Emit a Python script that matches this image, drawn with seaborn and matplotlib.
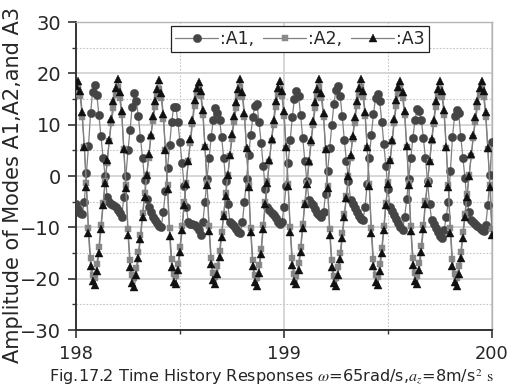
import numpy as np
import pandas as pd
import matplotlib
matplotlib.use("Agg")
import matplotlib.pyplot as plt
import seaborn as sns
from matplotlib.ticker import MultipleLocator

# sampling times (s)
t = np.round(198.0 + np.arange(201) * 0.01, 2)

A1 = [-5.4,
      -6.4, -7.2, -7.4, -5.0, 0.5, 5.8, 12.2, 16.4, 17.7, 15.8, 11.9, 7.7, 3.6, 0.0, -4.0, -5.0, -5.4, -5.7, -6.0,
      -6.6, -7.2, -8.0, -4.0, 0.0, 5.0, 9.0, 13.5, 16.1, 14.6, 11.6, 7.4, 3.5, -0.8, -4.5, -6.0, -7.0, -7.9, -8.6, -9.2,
      -9.8, -10.0, -7.0, -3.0, 1.5, 6.0, 10.5, 13.5, 13.4, 10.5, 6.6, 2.5, -2.0, -6.0, -9.0, -9.4, -9.4, -9.6, -10.0,
      -10.6, -11.4, -9.0, -5.0, -0.5, 3.5, 7.6, 11.0, 13.3, 12.3, 11.0, 7.6, 3.5, -1.0, -5.5, -9.0, -9.4, -9.8, -10.4, -11.0,
      -11.2, -9.0, -5.0, -0.5, 4.0, 8.0, 11.5, 13.6, 14.0, 10.5, 6.5, 2.0, -2.5, -6.0, -6.6, -7.2, -7.6, -8.2, -9.0,
      -9.4, -9.0, -6.0, -2.0, 2.5, 7.0, 11.5, 15.0, 16.6, 15.6, 11.8, 7.4, 3.0, -1.0, -4.6, -5.3, -5.7, -6.4, -7.2,
      -7.6, -8.0, -7.0, -3.5, 1.0, 5.5, 10.0, 14.0, 16.8, 17.6, 15.6, 11.6, 7.0, 3.0, -1.0, -4.7, -5.4, -6.2, -7.0, -7.8,
      -8.4, -8.6, -6.0, -1.5, 3.5, 8.0, 12.0, 15.2, 16.0, 14.6, 10.6, 6.2, 2.0, -2.5, -6.0, -6.8, -7.6, -8.4, -9.2,
      -10.0, -10.5, -8.0, -4.5, -0.5, 3.5, 7.5, 11.0, 13.0, 12.6, 11.0, 7.4, 3.5, -1.0, -5.5, -8.6, -9.4, -10.2, -11.0,
      -11.6, -12.0, -10.5, -8.0, -5.0, 1.0, 7.6, 11.6, 12.8, 12.2, 7.6, 3.5, -0.4, -5.0, -7.0, -8.6, -9.0, -9.4, -9.8, -10.2,
      -10.5, -10.8, -9.5, -5.7, 0.2, 6.7]

A2 = [16.0,
      17.2, 15.6, 11.4, 5.6, -1.4, -10.2, -16.0, -19.2, -19.8, -17.2, -13.8, -9.6, -5.2, -1.0, 2.6, 6.8, 10.4, 13.2, 15.8,
      17.4, 15.2, 11.8, 5.2, -1.8, -10.4, -16.4, -19.2, -19.8, -18.0, -14.8, -11.4, -7.2, -3.4, 0.2, 3.6, 7.6, 10.8, 13.4, 15.6,
      17.0, 15.2, 11.2, 5.0, -1.8, -10.2, -16.2, -19.0, -19.4, -17.2, -13.8, -9.8, -5.0, -1.4, 3.0, 6.4, 10.2, 13.6, 15.8,
      17.2, 15.6, 11.8, 5.6, -1.4, -9.8, -16.0, -18.8, -19.6, -17.6, -14.6, -11.0, -7.4, -3.4, 0.2, 3.8, 7.2, 10.6, 13.2, 15.6,
      17.4, 15.4, 11.4, 5.2, -1.8, -10.2, -16.4, -19.2, -19.8, -17.4, -14.2, -9.6, -5.0, -1.0, 2.8, 6.8, 10.0, 13.4, 16.0,
      17.0, 15.6, 11.6, 5.4, -1.6, -10.0, -16.0, -19.0, -19.4, -17.0, -13.8, -9.4, -5.2, -1.4, 2.6, 6.4, 10.0, 13.2, 15.6,
      17.4, 15.2, 11.4, 5.0, -2.0, -10.4, -16.4, -19.4, -19.8, -17.8, -15.0, -11.2, -7.4, -3.8, 0.0, 3.6, 7.2, 10.4, 13.6, 15.8,
      17.4, 15.4, 11.6, 5.4, -1.6, -10.2, -16.2, -19.2, -19.6, -17.2, -14.0, -9.8, -5.2, -1.2, 3.0, 6.6, 10.4, 13.6, 16.0,
      17.2, 15.2, 11.8, 5.6, -1.4, -9.8, -16.0, -18.8, -19.4, -17.0, -13.6, -9.6, -4.8, -1.0, 2.8, 6.8, 10.2, 13.4, 15.6,
      17.0, 15.4, 11.8, 5.4, -1.8, -10.2, -16.2, -19.0, -19.8, -17.6, -14.8, -11.0, -7.4, -3.6, 0.2, 3.8, 7.4, 10.6, 13.4, 15.8,
      17.2, 15.4, 11.4, 5.2, -1.8, -10.4]

A3 = [17.5,
      18.6, 16.6, 12.4, 5.6, -2.2, -11.2, -17.6, -20.4, -21.2, -18.6, -15.0, -10.4, -5.6, -1.4, 3.2, 7.0, 11.2, 14.6, 17.2,
      18.9, 16.4, 12.6, 5.2, -2.4, -11.4, -17.8, -20.8, -21.6, -19.2, -16.0, -12.2, -8.0, -4.0, 0.2, 4.2, 8.0, 11.6, 14.6, 17.0,
      18.7, 16.2, 12.0, 5.0, -2.6, -11.6, -17.8, -20.6, -21.0, -18.4, -14.8, -10.6, -5.6, -1.6, 3.0, 7.2, 11.0, 14.8, 17.2,
      18.4, 16.6, 12.8, 5.8, -1.8, -10.8, -17.2, -20.2, -21.0, -19.0, -15.8, -11.8, -7.8, -3.8, 0.2, 4.0, 8.2, 11.6, 14.4, 17.0,
      18.8, 16.4, 12.2, 5.4, -2.2, -11.0, -17.6, -20.6, -21.4, -18.8, -15.2, -10.4, -5.4, -1.4, 3.2, 7.2, 11.0, 14.6, 17.2,
      18.6, 16.6, 12.6, 5.6, -2.0, -11.0, -17.4, -20.4, -21.0, -18.4, -14.8, -10.2, -5.4, -1.6, 3.0, 7.0, 10.8, 14.4, 17.0,
      18.8, 16.2, 12.2, 5.2, -2.4, -11.4, -17.8, -20.8, -21.4, -19.2, -16.2, -12.0, -8.0, -4.2, 0.0, 4.0, 7.8, 11.4, 14.6, 17.2,
      18.9, 16.6, 12.4, 5.6, -2.0, -11.2, -17.6, -20.6, -21.2, -18.6, -15.0, -10.6, -5.6, -1.6, 3.2, 7.0, 11.2, 14.8, 17.4,
      18.6, 16.4, 12.6, 5.8, -1.8, -10.8, -17.4, -20.4, -21.0, -18.4, -14.8, -10.4, -5.4, -1.4, 3.0, 7.2, 11.0, 14.6, 17.0,
      18.5, 16.6, 12.8, 5.6, -2.2, -11.2, -17.6, -20.6, -21.4, -19.0, -16.0, -12.0, -8.0, -4.0, 0.0, 4.2, 8.0, 11.4, 14.6, 17.2,
      18.6, 16.6, 12.4, 5.4, -2.2, -11.4]

labels = [":A1,", ":A2,", ":A3"]
xticks = [198, 199, 200]
yticks = [-30, -20, -10, 0, 10, 20, 30]

sns.set_style("white")
plt.rcParams["font.family"] = ["DejaVu Sans"]
plt.rcParams["mathtext.fontset"] = "stix"

fig = plt.figure(figsize=(5.12, 3.87), dpi=100)
ax = fig.add_axes([76 / 512, 1 - 330 / 387, 416 / 512, 308 / 387])

styles = [
    (A1, "o", "#454545", 6.0),
    (A2, "s", "#8a8a8a", 4.8),
    (A3, "^", "#111111", 6.4),
]
for (vals, mk, mc, ms), lab in zip(styles, labels):
    sns.lineplot(x=t, y=vals, ax=ax, color="#808080", linewidth=0.9,
                 marker=mk, markersize=ms, markerfacecolor=mc,
                 markeredgecolor=mc, markeredgewidth=0.3,
                 estimator=None, sort=False, label=lab, zorder=3)

ax.set_xlim(198, 200)
ax.set_ylim(-30, 30)
ax.set_xticks(xticks)
ax.set_xticklabels([str(v) for v in xticks])
ax.set_yticks(yticks)
ax.xaxis.set_minor_locator(MultipleLocator(0.5))
ax.yaxis.set_minor_locator(MultipleLocator(5))

ax.grid(which="major", color="#cfcfcf", linewidth=1.2, linestyle="-", zorder=0)
ax.grid(which="minor", color="#c4c4c4", linewidth=0.8, linestyle=(0, (1.5, 1.5)), zorder=0)
ax.set_axisbelow(True)

ax.tick_params(axis="both", which="major", direction="out", length=5.5, width=1.2,
               color="#333333", left=True, bottom=True)
ax.tick_params(axis="both", which="minor", direction="out", length=3, width=1.0,
               color="#333333", left=True, bottom=True)
ax.tick_params(axis="y", which="major", labelsize=14.0, pad=5)
ax.tick_params(axis="x", which="major", labelsize=12.8, pad=5)

for s in ["left", "bottom"]:
    ax.spines[s].set_color("#333333")
    ax.spines[s].set_linewidth(1.4)
for s in ["top", "right"]:
    ax.spines[s].set_color("#b5b5b5")
    ax.spines[s].set_linewidth(1.0)

ax.set_ylabel("Amplitude of Modes A1,A2,and A3", fontsize=15.0)
ax.yaxis.set_label_coords(-0.128, 0.47)
ax.set_xlabel(r"Fig.17.2 Time History Responses $\omega$=65rad/s,$a_z$=8m/s$^2$ $\mathrm{s}$",
              fontsize=11.6)
ax.xaxis.set_label_coords(0.471, -0.123)

leg = ax.legend(loc="upper center", bbox_to_anchor=(0.538, 0.988), ncol=3,
                frameon=True, fancybox=False, edgecolor="#222222", framealpha=1,
                fontsize=12.5, handlelength=2.5, handletextpad=0.1,
                columnspacing=0.5, borderpad=0.25, borderaxespad=0)
leg.get_frame().set_linewidth(0.9)

fig.savefig("out.png", dpi=100)
